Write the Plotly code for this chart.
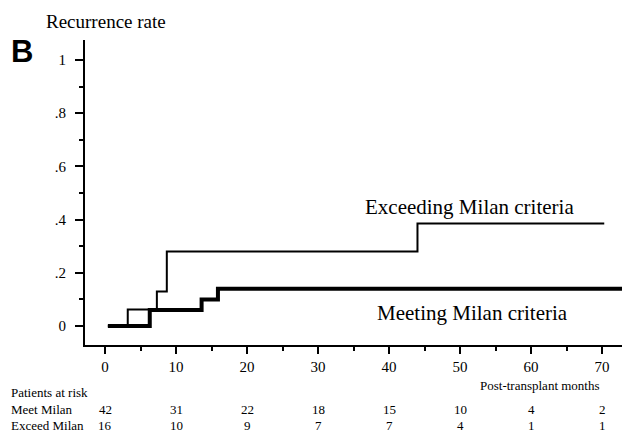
import plotly.graph_objects as go

# Data
meet_t = [0.4, 6.3, 13.6, 15.9, 73.5]
meet_r = [0.0, 0.06, 0.10, 0.14, 0.14]
exceed_t = [0.4, 3.2, 7.3, 8.7, 44.0, 70.3]
exceed_r = [0.0, 0.0625, 0.13, 0.28, 0.385, 0.385]

risk_times = [0, 10, 20, 30, 40, 50, 60, 70]
risk_meet = [42, 31, 22, 18, 15, 10, 4, 2]
risk_exceed = [16, 10, 9, 7, 7, 4, 1, 1]

ytick_vals = [0, 0.2, 0.4, 0.6, 0.8, 1.0]
ytick_text = ["0", ".2", ".4", ".6", ".8", "1"]
xtick_vals = [0, 10, 20, 30, 40, 50, 60, 70]

W, H = 622, 434
L, R, T, B = 85, 0, 40, 89
PW, PH = W - L - R, H - T - B


def px(xp):
    return (xp - L) / PW


def py(yp):
    return (H - B - yp) / PH


SERIF = "Liberation Serif"

fig = go.Figure()
fig.add_trace(go.Scatter(x=exceed_t, y=exceed_r, mode="lines", line=dict(shape="hv", color="black", width=2),
                         showlegend=False, hoverinfo="skip"))
fig.add_trace(go.Scatter(x=meet_t, y=meet_r, mode="lines", line=dict(shape="hv", color="black", width=4),
                         showlegend=False, hoverinfo="skip"))

ann = []
ann.append(dict(text="Recurrence rate", xref="paper", yref="paper", x=px(106), y=py(21),
                xanchor="center", yanchor="middle", showarrow=False,
                font=dict(family=SERIF, size=19, color="black")))
ann.append(dict(text="<b>B</b>", xref="paper", yref="paper", x=px(22), y=py(51),
                xanchor="center", yanchor="middle", showarrow=False,
                font=dict(family="Liberation Sans", size=31, color="black")))
ann.append(dict(text="Exceeding Milan criteria", xref="x", yref="y", x=51.3, y=0.447,
                xanchor="center", yanchor="middle", showarrow=False,
                font=dict(family=SERIF, size=21, color="black")))
ann.append(dict(text="Meeting Milan criteria", xref="x", yref="y", x=51.8, y=0.049,
                xanchor="center", yanchor="middle", showarrow=False,
                font=dict(family=SERIF, size=21, color="black")))
ann.append(dict(text="Post-transplant months", xref="paper", yref="paper", x=px(540), y=py(385),
                xanchor="center", yanchor="middle", showarrow=False,
                font=dict(family=SERIF, size=13, color="black")))
ann.append(dict(text="Patients at risk", xref="paper", yref="paper", x=px(9), y=py(392),
                xanchor="left", yanchor="middle", showarrow=False,
                font=dict(family=SERIF, size=13, color="black")))
ann.append(dict(text="Meet Milan", xref="paper", yref="paper", x=px(9), y=py(409),
                xanchor="left", yanchor="middle", showarrow=False,
                font=dict(family=SERIF, size=13, color="black")))
ann.append(dict(text="Exceed Milan", xref="paper", yref="paper", x=px(9), y=py(425),
                xanchor="left", yanchor="middle", showarrow=False,
                font=dict(family=SERIF, size=13, color="black")))
for t, m, e in zip(risk_times, risk_meet, risk_exceed):
    ann.append(dict(text=str(m), xref="x", yref="paper", x=t, y=py(409),
                    xanchor="center", yanchor="middle", showarrow=False,
                    font=dict(family=SERIF, size=13, color="black")))
    ann.append(dict(text=str(e), xref="x", yref="paper", x=t, y=py(425),
                    xanchor="center", yanchor="middle", showarrow=False,
                    font=dict(family=SERIF, size=13, color="black")))

fig.update_layout(
    width=W, height=H,
    margin=dict(l=L, r=R, t=T, b=B, pad=0),
    paper_bgcolor="white", plot_bgcolor="white",
    annotations=ann,
    xaxis=dict(range=[-2.82, 72.8], showgrid=False, zeroline=False, showline=True, linecolor="black",
               linewidth=2, ticks="outside", ticklen=7, tickwidth=2, tickcolor="black",
               tickmode="array", tickvals=xtick_vals,
               tickfont=dict(family=SERIF, size=15, color="black"),
               minor=dict(tickmode="array", tickvals=[5, 15, 25, 35, 45, 55, 65], ticks="outside",
                          ticklen=4, tickwidth=1.5, tickcolor="black")),
    yaxis=dict(range=[-0.0714, 1.075], showgrid=False, zeroline=False, showline=True, linecolor="black",
               linewidth=2, ticks="outside", ticklen=8, tickwidth=2, tickcolor="black",
               tickmode="array", tickvals=ytick_vals, ticktext=ytick_text,
               tickfont=dict(family=SERIF, size=15, color="black"), ticklabelstandoff=6,
               minor=dict(tickmode="array", tickvals=[0.1, 0.3, 0.5, 0.7, 0.9], ticks="outside",
                          ticklen=4, tickwidth=1.5, tickcolor="black")),
)

fig.write_html("out.html")
